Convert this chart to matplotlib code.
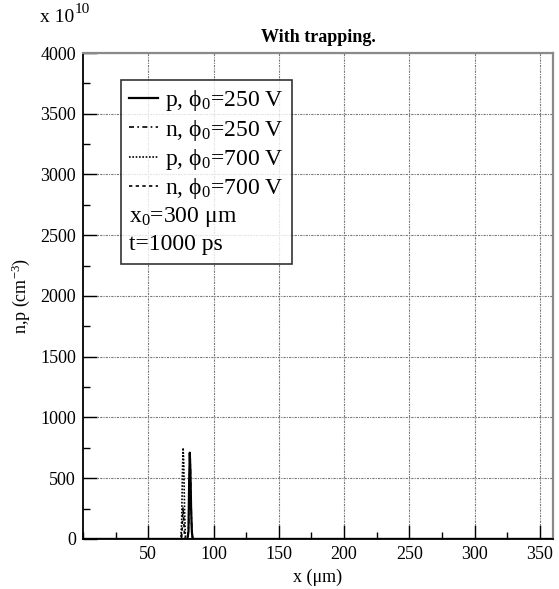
import numpy as np
import matplotlib.pyplot as plt
from matplotlib.ticker import MultipleLocator

plt.rcParams['font.family'] = ['Liberation Serif', 'DejaVu Serif']
plt.rcParams['mathtext.fontset'] = 'custom'
plt.rcParams['mathtext.rm'] = 'Liberation Serif'
plt.rcParams['mathtext.it'] = 'Liberation Serif:italic'

# charge density profiles (units of 1e10 cm^-3) vs position (um)
x_p250 = [0, 80.0, 80.8, 81.3, 81.8, 82.3, 82.8, 83.4, 84.0, 360]
p250 = [0, 0, 60, 450, 710, 560, 260, 60, 0, 0]
x_n250 = [0, 80.2, 81.0, 81.6, 82.1, 82.6, 83.2, 84.0, 360]
n250 = [0, 0, 120, 520, 680, 380, 120, 0, 0]
x_p700 = [0, 75.0, 75.6, 76.2, 76.7, 77.2, 77.8, 78.5, 360]
p700 = [0, 0, 150, 560, 750, 620, 240, 0, 0]
x_n700 = [0, 75.4, 76.0, 76.6, 77.1, 77.7, 78.4, 360]
n700 = [0, 0, 90, 260, 180, 40, 0, 0]

labels = [r'p, $\mathregular{ϕ_0}$=250 V', r'n, $\mathregular{ϕ_0}$=250 V',
          r'p, $\mathregular{ϕ_0}$=700 V', r'n, $\mathregular{ϕ_0}$=700 V']
extra = [r'x$\mathregular{_0}$=300 μm', 't=1000 ps']

fig = plt.figure(figsize=(5.59, 5.89), dpi=100)
ax = fig.add_axes([0.1485, 0.085, 0.8405, 0.825])

ax.plot(x_p250, p250, color='black', lw=1.6, ls='-', label=labels[0])
ax.plot(x_n250, n250, color='black', lw=1.2, ls=(0, (3, 2, 1, 2)), label=labels[1])
ax.plot(x_p700, p700, color='black', lw=1.2, ls=(0, (1, 1)), label=labels[2])
ax.plot(x_n700, n700, color='black', lw=1.2, ls=(0, (2, 2)), label=labels[3])
for txt in extra:
    ax.plot([], [], color='none', label=txt)

ax.set_xlim(0, 360)
ax.set_ylim(0, 4000)
ax.set_xticks([50, 100, 150, 200, 250, 300, 350])
ax.xaxis.set_minor_locator(MultipleLocator(25))
ax.yaxis.set_major_locator(MultipleLocator(500))
ax.yaxis.set_minor_locator(MultipleLocator(250))
ax.tick_params(which='both', direction='in', labelsize=13, width=1.0)
ax.tick_params(which='major', length=10, pad=5)
ax.tick_params(which='minor', length=5)
ax.grid(True, which='major', color='#777777', ls=(0, (2, 1, 1, 1)), lw=0.8)
ax.spines['left'].set_linewidth(1.3)
ax.spines['bottom'].set_linewidth(1.3)
for side in ['top', 'right']:
    ax.spines[side].set_color('#8a8a8a')
    ax.spines[side].set_linewidth(1.6)

ax.set_xlabel('x (μm)', fontsize=13, labelpad=4)
ax.set_ylabel(r'n,p (cm$^{\mathregular{-3}}$)', fontsize=13, labelpad=6)
ax.set_title('With trapping.', fontsize=13, fontweight='bold', pad=8)
fig.text(0.071, 0.962, 'x 10', fontsize=14)
fig.text(0.133, 0.978, '10', fontsize=11)

fs = 17
hl, hp = 1.2, 0.3
leg = ax.legend(loc='upper left', bbox_to_anchor=(0.081, 0.944), fontsize=fs,
                frameon=True, fancybox=False, edgecolor='black',
                handlelength=hl, handletextpad=hp, borderpad=0.35,
                borderaxespad=0, labelspacing=0.18)
leg.get_frame().set_linewidth(1.2)
# the last two entries carry no line, so pull their text to the left edge
shift = -(hl + hp) * fs * fig.dpi / 72
for t in leg.get_texts()[4:]:
    t.set_position((shift, 0))

fig.savefig('out.png', dpi=100)
